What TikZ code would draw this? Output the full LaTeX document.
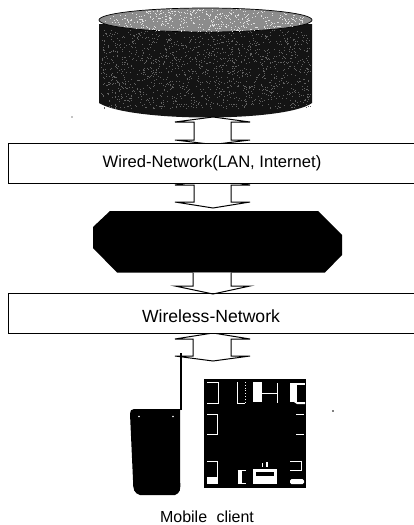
\documentclass[tikz,border=0pt]{standalone}
\usepackage{fontspec}
\setmainfont{Liberation Sans}
\tikzset{
  band/.style={draw=black,line width=0.8pt,fill=white,minimum height=40pt,inner sep=0pt},
  flow/.style={draw=black,line width=1pt,fill=white,line join=miter},
  lbl/.style={text=black,inner sep=0pt},
  ui/.style={draw=white,line width=0.8pt},
  uifill/.style={fill=white,draw=none}
}
\begin{document}
\begin{tikzpicture}[x=1pt,y=-1pt]
\useasboundingbox (0,0) rectangle (413,525);
\fill[white] (0,0) rectangle (413,525);

% Database cylinder
\path[fill=black!92] (99,24) -- (99,103) .. controls (115,113) and (165,117.5) .. (206,117.5)
  .. controls (250,117.5) and (298,113) .. (312,103) -- (312,24) -- cycle;
\pgfmathsetseed{42}
\foreach \i in {1,...,1500}{
  \pgfmathsetmacro{\px}{101+rnd*209}
  \pgfmathsetmacro{\py}{30+rnd*78}
  \fill[black!62] (\px,\py) rectangle +(0.8,0.8);
}
\path[fill=black!45,draw=black,line width=0.7pt] (205.5,20) ellipse [x radius=106.5,y radius=12];
\foreach \i in {1,...,450}{
  \pgfmathsetmacro{\pa}{rnd*360}
  \pgfmathsetmacro{\pr}{sqrt(rnd)*0.96}
  \pgfmathsetmacro{\px}{205.5+106.5*\pr*cos(\pa)}
  \pgfmathsetmacro{\py}{20+12*\pr*sin(\pa)}
  \fill[black!12] (\px,\py) rectangle +(0.9,0.9);
}

% Block arrows
\draw[flow] (213,117) -- (250,122) -- (231,122) -- (231,140) -- (250,140) -- (213,144.5) -- (175,140) -- (194,140) -- (194,122) -- (175,122) -- cycle;
\draw[flow] (213,179) -- (250,185) -- (231,185) -- (231,202) -- (250,202) -- (213,208) -- (175,202) -- (194,202) -- (194,185) -- (175,185) -- cycle;
\draw[flow] (213,333) -- (250,339) -- (231,339) -- (231,356) -- (250,356) -- (213,361) -- (175,356) -- (193,356) -- (193,339) -- (175,339) -- cycle;

% Bands: open at the right, running off the page
\node[band,anchor=north west,minimum width=410pt] (wired) at (8,143) {};
\node[lbl,font=\fontsize{16.6}{20}\selectfont] (wiredtext) at (212,163.5) {Wired-Network(LAN, Internet)};
\node[band,anchor=north west,minimum width=410pt] (wireless) at (8,293) {};
\node[lbl,font=\fontsize{17.6}{20}\selectfont] (wirelesstext) at (211,316) {Wireless-Network};

% Server
\fill[black] (110,211) -- (318,211) -- (342,235) -- (342,255) -- (325,272.5) -- (117,272.5) -- (93,248) -- (93,227) -- cycle;
% Arrow between server and wireless band
\draw[flow] (193,272.5) -- (193,286) -- (175,286) -- (213,294) -- (250,286) -- (231,286) -- (231,272.5);
\draw[black,line width=0.8pt] (8,293) -- (413,293);

% Phone
\path[fill=black] (134,409) -- (180,409) -- (180,480) .. controls (181,490) and (180,493) .. (175,495)
  -- (140,495) .. controls (134,493) and (133,490) .. (133,480) -- (130,414) .. controls (130,411) and (131,409) .. (134,409) -- cycle;
\draw[black,line width=2pt] (180.5,410) -- (180.5,353);
\fill[white] (139,416.5) circle (0.8);
\fill[white] (173,416.5) circle (0.8);

% Screen
\fill[black] (204,379) rectangle (306,488);
\draw[ui] (207,382) -- (218,382) -- (218,403) -- (207,403);
\draw[ui] (237.5,382) -- (237.5,403) -- (245,403);
\draw[ui,dotted] (245,382) -- (245,403);
\fill[uifill] (253,382) rectangle (262,402);
\draw[ui] (262,393.5) -- (277,393.5);
\draw[ui] (277,383) -- (277,403);
\fill[uifill] (290,384) rectangle (297,402);
\fill[uifill] (290,383) rectangle (305,385);
\fill[uifill] (294,402) -- (305,402) -- (305,404) -- (297,404) -- cycle;
\draw[ui] (207,414) -- (217.5,414) -- (217.5,434.5) -- (207,434.5);
\draw[ui] (296,414) -- (304,414);
\draw[ui] (296,434.5) -- (304,434.5);
\draw[ui] (207,461) -- (217.5,461) -- (217.5,477);
\fill[uifill] (207,477) rectangle (217.5,484);
\fill[uifill] (237.5,470) rectangle (242,484);
\draw[ui] (237.5,470) -- (246,470);
\draw[ui] (237.5,483.5) -- (246,483.5);
\fill[uifill] (253,469) rectangle (277,484);
\fill[black] (256,472) rectangle (274,476);
\fill[white] (262,463) rectangle +(1,4);
\fill[white] (266,462) rectangle +(2,5);
\draw[ui] (290,461) -- (301.5,461) -- (301.5,470) -- (290,470);
\fill[uifill,rounded corners=1.5pt] (290,479) rectangle (304,484);

% stray specks
\fill[black] (333,411) circle (0.8);
\fill[black] (72,117) circle (0.7);

\node[lbl,font=\fontsize{16}{20}\selectfont] (client) at (207,517) {Mobile\hspace{5pt} client};
\end{tikzpicture}
\end{document}
